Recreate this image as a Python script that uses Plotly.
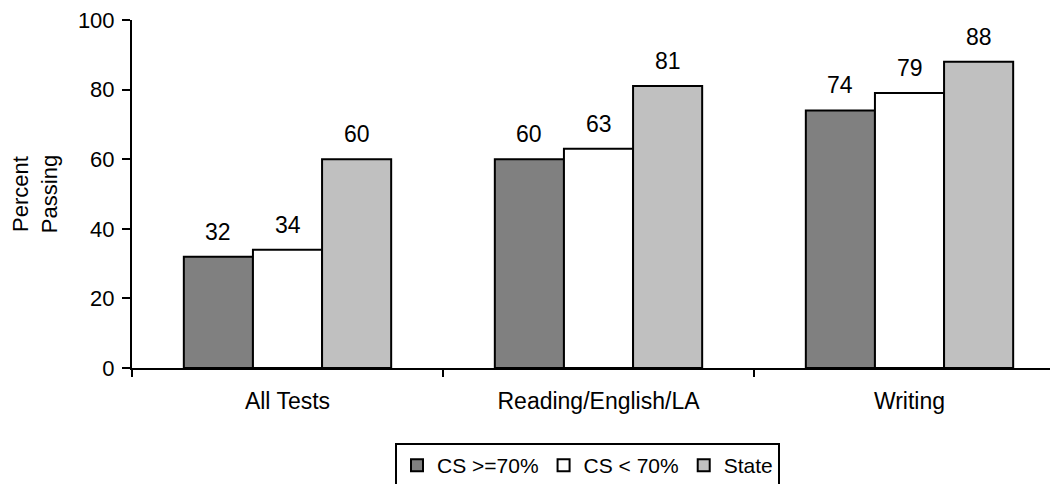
"""
Percent passing by test — CS groups vs State (grouped bar chart)
"""
import plotly.graph_objects as go

categories = ["All Tests", "Reading/English/LA", "Writing"]
series_names = ["CS >=70%", "CS < 70%", "State"]
cs_high = [32, 60, 74]
cs_low = [34, 63, 79]
state = [60, 81, 88]

y_ticks = [0, 20, 40, 60, 80, 100]

colors = ["#808080", "#FFFFFF", "#C0C0C0"]
FONT = "Liberation Sans, Arial, sans-serif"
BARGAP = 1 / 3

# the page body has an 8px margin, so the figure is sized / offset for it
fig = go.Figure()
for name, vals, color in zip(series_names, [cs_high, cs_low, state], colors):
    fig.add_trace(go.Bar(
        x=categories,
        y=vals,
        name=name,
        marker=dict(color=color, line=dict(color="black", width=2)),
    ))

# value labels above each bar (bar centre = category index + offset in the group)
n = len(series_names)
w = (1 - BARGAP) / n
for j, vals in enumerate([cs_high, cs_low, state]):
    for i, v in enumerate(vals):
        fig.add_annotation(
            x=i + (j - (n - 1) / 2) * w,
            y=v,
            text=str(v),
            showarrow=False,
            yanchor="bottom",
            yshift=10,
            font=dict(size=23, color="black", family=FONT),
        )

fig.update_layout(
    width=1050,
    height=476,
    barmode="group",
    bargap=BARGAP,
    bargroupgap=0,
    plot_bgcolor="white",
    paper_bgcolor="white",
    font=dict(family=FONT, size=23, color="black"),
    margin=dict(l=124, r=0, t=12, b=116, autoexpand=False),
    legend=dict(
        orientation="h",
        x=(387 - 124) / 926,
        xanchor="left",
        y=-0.2155,
        yanchor="top",
        bordercolor="black",
        borderwidth=2,
        font=dict(size=21),
        itemwidth=30,
        tracegroupgap=0,
    ),
)
fig.update_xaxes(
    range=[-0.5, 2.5 - 7 / 311],
    showline=True,
    linecolor="black",
    linewidth=2,
    ticks="outside",
    tickson="boundaries",
    ticklen=7,
    tickwidth=2,
    tickcolor="black",
    ticklabelstandoff=11,
    showgrid=False,
)
fig.update_yaxes(
    range=[0, 100],
    tickvals=y_ticks,
    showline=True,
    linecolor="black",
    linewidth=2,
    ticks="outside",
    ticklen=8,
    tickwidth=2,
    tickcolor="black",
    ticklabelstandoff=3,
    ticklabeloverflow="allow",
    tickfont=dict(size=22),
    showgrid=False,
    zeroline=False,
    title=dict(text="Percent<br>Passing", font=dict(size=22), standoff=25),
)

fig.write_html("out.html")
